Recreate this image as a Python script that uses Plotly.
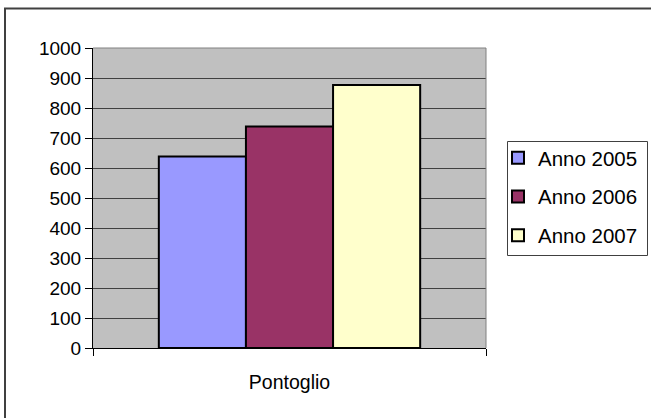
import plotly.graph_objects as go

# Data
categories = ["Pontoglio"]
series_names = ["Anno 2005", "Anno 2006", "Anno 2007"]
series_values = [[638], [738], [877]]
series_colors = ["#9999FF", "#993366", "#FFFFCC"]
y_ticks = [0, 100, 200, 300, 400, 500, 600, 700, 800, 900, 1000]

W, H = 651, 418
L, R, T, B = 93, 486, 48, 348  # plot area in pixels

def px_x(p):
    return (p - L) / (R - L)

def px_y(p):
    return (B - p) / (B - T)

fig = go.Figure()
for i, (name, vals, col) in enumerate(zip(series_names, series_values, series_colors)):
    fig.add_trace(go.Bar(
        x=categories, y=vals, name=name,
        marker=dict(color=col, line=dict(color="black", width=2)),
        legendgroup=name,
    ))

FONT = "Liberation Sans, Arial, sans-serif"

fig.update_layout(
    width=W, height=H,
    margin=dict(l=L, r=W - R, t=T, b=H - B, pad=0, autoexpand=False),
    paper_bgcolor="white",
    plot_bgcolor="#C0C0C0",
    barmode="group",
    bargap=0.335,
    bargroupgap=0,
    font=dict(family=FONT, size=19, color="black"),
    showlegend=True,
    legend=dict(
        x=px_x(498), y=px_y(138), xanchor="left", yanchor="top",
        borderwidth=0, bgcolor="rgba(0,0,0,0)",
        font=dict(family=FONT, size=20.5, color="black"),
        tracegroupgap=9,
        itemwidth=30,
    ),
    xaxis=dict(
        type="category",
        showgrid=False,
        showline=True, linecolor="black", linewidth=1,
        ticks="outside", ticklen=7, tickcolor="black",
        tickson="boundaries",
        ticklabelstandoff=17,
        tickfont=dict(family=FONT, size=19.5, color="black"),
    ),
    yaxis=dict(
        range=[0, 1000],
        tickvals=y_ticks,
        showgrid=True, gridcolor="#404040", gridwidth=1,
        showline=True, linecolor="black", linewidth=1,
        ticks="outside", ticklen=7, tickcolor="black",
        tickfont=dict(family=FONT, size=19, color="black"),
        zeroline=False,
    ),
    shapes=[
        # plot area frame (top and right edges)
        dict(type="line", xref="paper", yref="paper", x0=0, x1=1, y0=1, y1=1,
             line=dict(color="#808080", width=1)),
        dict(type="line", xref="paper", yref="paper", x0=1, x1=1, y0=0, y1=1,
             line=dict(color="#808080", width=1)),
        # legend frame
        dict(type="rect", xref="paper", yref="paper",
             x0=px_x(507.5), x1=px_x(647.5), y0=px_y(141.5), y1=px_y(255.5),
             line=dict(color="#404040", width=1)),
        # chart area border
        dict(type="rect", xref="paper", yref="paper",
             x0=px_x(5), x1=px_x(662), y0=px_y(8.5), y1=px_y(430),
             line=dict(color="#404040", width=2)),
    ],
)

fig.write_html("out.html")
